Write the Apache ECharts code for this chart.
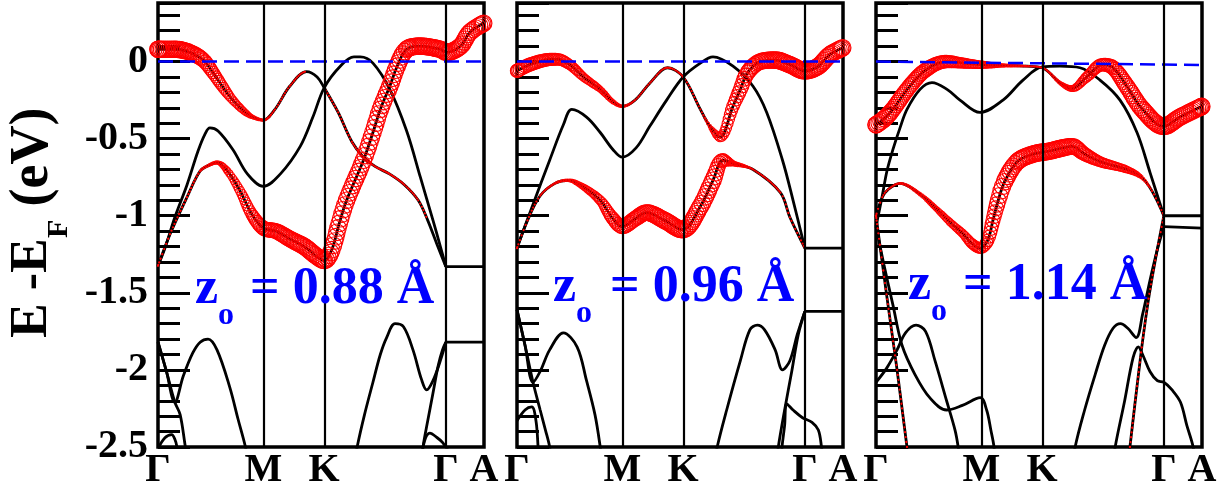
<!DOCTYPE html>
<html>
<head>
<meta charset="utf-8">
<script src="https://cdn.jsdelivr.net/npm/echarts@6/dist/echarts.min.js"></script>
<style>
html, body { margin: 0; padding: 0; background: #fff; }
#chart { width: 1228px; height: 493px; }
</style>
</head>
<body>
<div id="chart"></div>
<script>
// k path  Γ - M - K - Γ - A  (lengths in units of |ΓM|)
var kTicks = [0, 1, 1.577, 2.732, 3.094];
var kNames = ['Γ', 'M', 'K', 'Γ', 'A'];
var zValues = ['0.88', '0.96', '1.14'];
var yMin = -2.5, yMax = 0.38;

// bands: [k, E-EF, weight]   weight = size of the red fat-band circles (0 = none)
// ---- z0 = 0.88
var p1FatA = [[0,0.08,1],[0.16,0.08,1],[0.30,0.06,0.95],[0.43,0.01,0.85],[0.52,-0.07,0.75],[0.62,-0.17,0.65],[0.71,-0.25,0.5],[0.83,-0.33,0.35],[0.90,-0.36,0.22],[1.0,-0.38,0.12],[1.11,-0.31,0.05],[1.25,-0.16,0.03],[1.41,-0.065,0],[1.51,-0.10,0],[1.577,-0.17,0],[1.71,-0.33,0.04],[1.84,-0.52,0.04],[1.95,-0.62,0.04],[2.06,-0.68,0.04],[2.20,-0.73,0.04],[2.34,-0.80,0.04],[2.47,-0.90,0.04],[2.56,-1.03,0],[2.65,-1.19,0],[2.732,-1.33,0]];
var p1FatB = [[0,-1.325,0.04],[0.114,-1.12,0.04],[0.275,-0.88,0.05],[0.40,-0.71,0.1],[0.49,-0.67,0.15],[0.56,-0.655,0.2],[0.66,-0.71,0.4],[0.78,-0.84,0.55],[0.89,-0.99,0.7],[1.0,-1.08,0.85],[1.12,-1.10,0.9],[1.25,-1.15,0.95],[1.39,-1.20,1],[1.50,-1.26,1],[1.58,-1.29,1],[1.65,-1.22,1],[1.72,-1.05,1],[1.79,-0.90,1],[1.95,-0.64,1],[2.04,-0.46,1],[2.11,-0.31,1],[2.20,-0.16,1],[2.27,-0.03,1],[2.36,0.08,1],[2.49,0.10,1],[2.68,0.08,1],[2.74,0.06,1],[2.87,0.10,1],[2.96,0.19,1],[3.094,0.25,1]];
var p1Band2 = [[0,-1.325],[0.066,-1.21],[0.16,-1.01],[0.275,-0.80],[0.38,-0.58],[0.446,-0.47],[0.493,-0.43],[0.57,-0.45],[0.71,-0.57],[0.85,-0.73],[1.0,-0.81],[1.16,-0.73],[1.35,-0.55],[1.47,-0.36],[1.577,-0.17],[1.73,-0.03],[1.86,0.03],[1.92,0.03],[2.04,-0.01],[2.20,-0.18],[2.36,-0.45],[2.49,-0.75],[2.61,-1.03],[2.68,-1.2],[2.732,-1.33]];
var p1Band3 = [[0,-1.82],[0.08,-2.01],[0.16,-2.21],[0.21,-2.29],[0.26,-2.5],[0.29,-2.62]];
var p1Band4 = [[0,-1.82],[0.08,-2.01],[0.16,-2.21],[0.24,-2.04],[0.33,-1.89],[0.40,-1.82],[0.475,-1.80],[0.56,-1.87],[0.68,-2.11],[0.76,-2.32],[0.83,-2.5],[0.86,-2.62]];
var p1Band5 = [[0,-2.51],[0.066,-2.44],[0.13,-2.42],[0.16,-2.45],[0.18,-2.5],[0.20,-2.62]];
var p1Band6 = [[1.86,-2.62],[1.89,-2.5],[1.96,-2.29],[2.04,-2.08],[2.11,-1.90],[2.17,-1.79],[2.25,-1.70],[2.33,-1.72],[2.42,-1.87],[2.50,-2.06],[2.55,-2.13],[2.61,-2.07],[2.68,-1.94],[2.732,-1.82]];
var p1Band7 = [[2.50,-2.62],[2.515,-2.5],[2.56,-2.33],[2.61,-2.15],[2.66,-1.97],[2.70,-1.87],[2.732,-1.82]];
var p1Band8 = [[2.49,-2.62],[2.53,-2.46],[2.58,-2.41],[2.65,-2.44],[2.70,-2.47],[2.76,-2.53]];
var p1Flat = [[-1.33,-1.33],[-1.82,-1.82]];   // Γ-A: [E at Γ, E at A]
var p1Ef = [[0,0],[3.094,0]];

// ---- z0 = 0.96
var p2FatA = [[0,-0.06,0.8],[0.12,-0.02,0.8],[0.27,0.01,0.75],[0.38,0.015,0.7],[0.50,-0.02,0.6],[0.63,-0.10,0.5],[0.79,-0.18,0.35],[0.91,-0.26,0.25],[1.0,-0.29,0.15],[1.12,-0.25,0.05],[1.26,-0.14,0.04],[1.43,-0.04,0.04],[1.577,-0.10,0.03],[1.74,-0.31,0.03],[1.83,-0.42,0.2],[1.927,-0.49,0.55],[2.05,-0.29,0.75],[2.12,-0.18,0.85],[2.19,-0.07,0.9],[2.31,0.0,0.95],[2.45,0.01,1],[2.59,-0.02,1],[2.732,-0.06,1],[2.86,-0.03,1],[2.97,0.045,1],[3.094,0.09,1]];
var p2FatB = [[0,-1.21,0.04],[0.10,-1.03,0.04],[0.22,-0.87,0.05],[0.36,-0.79,0.1],[0.48,-0.77,0.15],[0.60,-0.80,0.3],[0.79,-0.90,0.55],[0.90,-1.01,0.75],[1.0,-1.07,0.85],[1.12,-1.02,0.9],[1.23,-0.98,0.95],[1.40,-1.03,1],[1.57,-1.09,1],[1.74,-0.94,1],[1.86,-0.77,1],[1.955,-0.64,0.8],[2.05,-0.66,0.3],[2.24,-0.70,0.05],[2.50,-0.85,0.04],[2.59,-1.01,0.04],[2.732,-1.21,0]];
var p2Band2 = [[0,-1.21],[0.15,-0.93],[0.31,-0.64],[0.44,-0.41],[0.52,-0.31],[0.66,-0.36],[0.79,-0.46],[0.91,-0.57],[1.0,-0.62],[1.13,-0.56],[1.26,-0.42],[1.42,-0.25],[1.577,-0.10],[1.74,-0.01],[1.86,0.03],[2.05,-0.03],[2.24,-0.16],[2.37,-0.33],[2.52,-0.64],[2.62,-0.90],[2.732,-1.21]];
var p2Band3 = [[0,-1.61],[0.076,-1.84],[0.152,-2.08],[0.22,-2.26],[0.27,-2.39],[0.31,-2.5],[0.33,-2.62]];
var p2Band4 = [[0,-1.61],[0.076,-1.84],[0.152,-2.08],[0.22,-2.01],[0.31,-1.87],[0.44,-1.76],[0.57,-1.85],[0.66,-2.07],[0.74,-2.29],[0.79,-2.5],[0.81,-2.62]];
var p2Band5 = [[0,-2.33],[0.076,-2.26],[0.14,-2.24],[0.18,-2.33],[0.20,-2.5],[0.21,-2.62]];
var p2Band6 = [[1.87,-2.62],[1.90,-2.5],[1.99,-2.26],[2.12,-1.94],[2.21,-1.74],[2.28,-1.71],[2.35,-1.74],[2.45,-1.87],[2.52,-2.0],[2.59,-1.94],[2.66,-1.77],[2.732,-1.62]];
var p2Band7 = [[2.46,-2.62],[2.48,-2.5],[2.54,-2.26],[2.61,-2.0],[2.67,-1.77],[2.732,-1.62]];
var p2Band8 = [[2.50,-2.62],[2.515,-2.5],[2.54,-2.36],[2.56,-2.22],[2.62,-2.26],[2.71,-2.31],[2.80,-2.34],[2.86,-2.39],[2.89,-2.5],[2.91,-2.62]];
var p2Flat = [[-1.21,-1.21],[-1.62,-1.62]];
var p2Ef = [[0,0],[3.094,0]];

// ---- z0 = 1.14
var p3FatA = [[0,-0.41,1],[0.08,-0.37,1],[0.16,-0.31,0.95],[0.32,-0.16,0.9],[0.48,-0.05,0.85],[0.67,0.0,0.75],[0.83,-0.01,0.6],[0.99,-0.02,0.45],[1.2,-0.025,0.2],[1.43,-0.03,0.08],[1.577,-0.04,0.04],[1.75,-0.14,0.2],[1.86,-0.175,0.35],[2.0,-0.10,0.6],[2.15,-0.02,0.75],[2.25,-0.04,0.85],[2.38,-0.16,0.95],[2.53,-0.31,1],[2.732,-0.42,1],[2.885,-0.36,1],[3.094,-0.29,1]];
var p3FatB = [[0,-1.0,0.04],[0.06,-0.88,0.04],[0.114,-0.83,0.06],[0.228,-0.79,0.1],[0.418,-0.86,0.2],[0.58,-0.96,0.3],[0.70,-1.04,0.4],[0.83,-1.12,0.5],[0.91,-1.18,0.6],[0.99,-1.21,0.65],[1.06,-1.16,0.75],[1.11,-1.03,0.85],[1.16,-0.90,0.95],[1.22,-0.78,1],[1.34,-0.65,1],[1.49,-0.60,1],[1.65,-0.58,1],[1.77,-0.56,1],[1.86,-0.55,0.95],[1.98,-0.60,0.8],[2.13,-0.65,0.6],[2.38,-0.70,0.4],[2.52,-0.75,0.2],[2.62,-0.84,0.05],[2.732,-1.0,0]];
var p3Band2 = [[0,-1.07],[0.057,-0.88],[0.104,-0.71],[0.161,-0.57],[0.228,-0.43],[0.294,-0.31],[0.418,-0.18],[0.531,-0.136],[0.674,-0.18],[0.797,-0.25],[0.987,-0.33],[1.205,-0.25],[1.395,-0.12],[1.577,-0.035],[1.746,-0.03],[1.936,-0.04],[2.126,-0.12],[2.316,-0.25],[2.477,-0.46],[2.601,-0.72],[2.732,-1.0]];
var p3Steep1 = [[0,-1.0,0.05],[0.10,-1.51,0.05],[0.20,-2.0,0.05],[0.294,-2.5,0.05],[0.32,-2.62,0.05]];
var p3Steep2 = [[0,-1.07],[0.076,-1.32],[0.161,-1.58],[0.247,-1.84],[0.37,-2.03],[0.51,-2.18],[0.67,-2.26],[0.82,-2.23],[0.99,-2.18],[1.05,-2.26],[1.09,-2.39],[1.12,-2.5],[1.13,-2.62]];
var p3Band3 = [[0,-2.08],[0.10,-1.99],[0.20,-1.87],[0.28,-1.76],[0.38,-1.71],[0.47,-1.75],[0.56,-1.94],[0.67,-2.20],[0.75,-2.39],[0.78,-2.5],[0.80,-2.62]];
var p3Band6 = [[1.87,-2.62],[1.89,-2.5],[1.98,-2.26],[2.08,-2.03],[2.17,-1.84],[2.25,-1.73],[2.32,-1.70],[2.39,-1.73],[2.47,-1.79],[2.53,-1.64],[2.60,-1.42],[2.67,-1.22],[2.732,-1.07]];
var p3Band7 = [[2.25,-2.62],[2.27,-2.5],[2.36,-2.2],[2.44,-1.92],[2.49,-1.85],[2.53,-1.90],[2.60,-2.01],[2.67,-2.07],[2.732,-2.08],[2.81,-2.13],[2.89,-2.21],[2.95,-2.36],[3.01,-2.5],[3.03,-2.62]];
var p3Steep3 = [[2.39,-2.62,0.05],[2.41,-2.5,0.05],[2.51,-1.92,0.05],[2.58,-1.57,0.05],[2.65,-1.29,0.05],[2.732,-1.0,0.05]];
var p3Flat = [[-1.0,-1.0],[-1.07,-1.08]];
var p3Ef = [[0,0],[3.094,-0.022]];

var panels = [
    { left: 158, lines: [p1Band2, p1Band3, p1Band4, p1Band5, p1Band6, p1Band7, p1Band8], fat: [p1FatA, p1FatB], flat: p1Flat, ef: p1Ef },
    { left: 517, lines: [p2Band2, p2Band3, p2Band4, p2Band5, p2Band6, p2Band7, p2Band8], fat: [p2FatA, p2FatB], flat: p2Flat, ef: p2Ef },
    { left: 876, lines: [p3Band2, p3Steep2, p3Band3, p3Band6, p3Band7], fat: [p3FatA, p3FatB, p3Steep1, p3Steep3], flat: p3Flat, ef: p3Ef }
];

var SMOOTH = 0.35;
var FONT = '"Liberation Serif", "Times New Roman", serif';

function clamp(v, a, b) {
    return Math.min(Math.max(v, Math.min(a, b)), Math.max(a, b));
}

// same bezier control points as echarts' smoothed line, so circles sit on the line
function smoothSegments(pts, smooth) {
    var segs = [];
    var cp0 = pts[0];
    for (var i = 1; i < pts.length; i++) {
        var prev = pts[i - 1], cur = pts[i], next = pts[i + 1];
        var cp1, nextCp0;
        if (!next) {
            cp1 = cur; nextCp0 = cur;
        } else {
            var lp = Math.hypot(cur[0] - prev[0], cur[1] - prev[1]);
            var ln = Math.hypot(next[0] - cur[0], next[1] - cur[1]);
            var ratio = ln / (ln + lp);
            var vx = next[0] - prev[0], vy = next[1] - prev[1];
            var nx = clamp(cur[0] + vx * smooth * ratio, cur[0], next[0]);
            var ny = clamp(cur[1] + vy * smooth * ratio, cur[1], next[1]);
            vx = nx - cur[0]; vy = ny - cur[1];
            var cx = clamp(cur[0] - vx * lp / ln, cur[0], prev[0]);
            var cy = clamp(cur[1] - vy * lp / ln, cur[1], prev[1]);
            vx = cur[0] - cx; vy = cur[1] - cy;
            cp1 = [cx, cy];
            nextCp0 = [cur[0] + vx * ln / lp, cur[1] + vy * ln / lp];
        }
        segs.push([prev, cp0, cp1, cur]);
        cp0 = nextCp0;
    }
    return segs;
}

function bez(s, t) {
    var u = 1 - t;
    var a = u * u * u, b = 3 * u * u * t, c = 3 * u * t * t, d = t * t * t;
    return [a * s[0][0] + b * s[1][0] + c * s[2][0] + d * s[3][0],
            a * s[0][1] + b * s[1][1] + c * s[2][1] + d * s[3][1]];
}

// hollow red circles along the band, size from the weight
function fatRender(band) {
    return function (params, api) {
        if (params.dataIndex !== 0) return;
        var pts = band.map(function (d) { return api.coord([d[0], d[1]]); });
        var segs = smoothSegments(pts, SMOOTH);
        var bottom = api.coord([0, yMin])[1];
        var children = [];
        segs.forEach(function (s, i) {
            var w0 = band[i][2], w1 = band[i + 1][2];
            if (w0 <= 0 && w1 <= 0) return;
            var dx = Math.abs(s[3][0] - s[0][0]);
            var len = Math.hypot(s[3][0] - s[0][0], s[3][1] - s[0][1]);
            var n = Math.max(1, Math.ceil(dx / 1.6), Math.ceil(len / 5));
            for (var j = 0; j < n; j++) {
                var t = j / n;
                var w = w0 + (w1 - w0) * t;
                if (w <= 0) continue;
                var p = bez(s, t);
                if (p[1] > bottom) continue;
                children.push({
                    type: 'circle',
                    shape: { cx: p[0], cy: p[1], r: Math.max(w * 8.3, 0.6) },
                    style: { fill: 'none', stroke: '#ff0000', lineWidth: 1.1 }
                });
            }
        });
        return { type: 'group', children: children };
    };
}

var chart = echarts.init(document.getElementById('chart'));

var grids = [], xAxes = [], yAxes = [], series = [], graphics = [];

panels.forEach(function (p, i) {
    grids.push({ left: p.left, top: 3, width: 326, height: 444, show: true, borderColor: '#000', borderWidth: 3.5, outerBoundsMode: 'none' });
    xAxes.push({
        gridIndex: i, type: 'value', min: 0, max: kTicks[4],
        axisLine: { show: false }, axisTick: { show: false }, splitLine: { show: false },
        axisLabel: {
            customValues: kTicks, margin: 4,
            fontFamily: FONT, fontWeight: 'bold', fontSize: 40, color: '#000',
            formatter: function (v) {
                var best = 0;
                kTicks.forEach(function (k, j) { if (Math.abs(k - v) < Math.abs(kTicks[best] - v)) best = j; });
                return kNames[best];
            }
        }
    });
    // long ticks every 0.5 eV (labels on the first panel only)
    yAxes.push({
        gridIndex: i, type: 'value', position: 'left', min: yMin, max: yMax, interval: 0.5,
        axisLine: { show: false }, splitLine: { show: false },
        axisTick: { show: true, inside: true, length: 32, lineStyle: { color: '#000', width: 3 } },
        axisLabel: { show: i === 0, showMaxLabel: false, margin: 10, fontFamily: FONT, fontWeight: 'bold', fontSize: 40, color: '#000' }
    });
    // short ticks every 0.1 eV
    yAxes.push({
        gridIndex: i, type: 'value', position: 'left', min: yMin, max: yMax, interval: 0.1,
        axisLine: { show: false }, splitLine: { show: false },
        axisTick: { show: true, inside: true, length: 22, lineStyle: { color: '#000', width: 3 } },
        axisLabel: { show: false }
    });

    var yi = 2 * i;
    p.lines.concat(p.fat).forEach(function (b) {
        series.push({
            type: 'line', xAxisIndex: i, yAxisIndex: yi, silent: true,
            data: b.map(function (d) { return [d[0], d[1]]; }),
            smooth: SMOOTH, showSymbol: false, z: 2,
            lineStyle: { color: '#000', width: 2.8 }
        });
    });
    p.flat.forEach(function (f, j) {
        var s = {
            type: 'line', xAxisIndex: i, yAxisIndex: yi, silent: true,
            data: [[kTicks[3], f[0]], [kTicks[4], f[1]]],
            showSymbol: false, z: 2,
            lineStyle: { color: '#000', width: 2.8 }
        };
        if (j === 0) {
            s.markLine = {
                silent: true, symbol: ['none', 'none'], label: { show: false },
                lineStyle: { color: '#000', width: 2.2, type: 'solid' },
                data: kTicks.slice(1, 4).map(function (k) { return { xAxis: k }; })
            };
        }
        series.push(s);
    });
    p.fat.forEach(function (b) {
        series.push({
            type: 'custom', xAxisIndex: i, yAxisIndex: yi, silent: true, clip: false, z: 3,
            data: b, renderItem: fatRender(b)
        });
    });
    series.push({
        type: 'line', xAxisIndex: i, yAxisIndex: yi, silent: true,
        data: p.ef, showSymbol: false, z: 4,
        lineStyle: { color: '#0000ff', width: 2.5, type: [15, 7] }
    });
});

// z_o labels
var zX = [195, 553, 908], eqX = [250, 610, 963], zBase = [307, 305, 303];
zValues.forEach(function (v, i) {
    graphics.push({ type: 'text', x: zX[i], y: zBase[i] - 17, z: 10,
        style: { text: 'z', fill: '#0000ff', font: 'bold 52px ' + FONT, align: 'left', verticalAlign: 'middle' } });
    graphics.push({ type: 'text', x: zX[i] + 23, y: zBase[i] + 20 - 11, z: 10,
        style: { text: 'o', fill: '#0000ff', font: 'bold 32px ' + FONT, align: 'left', verticalAlign: 'middle' } });
    graphics.push({ type: 'text', x: eqX[i], y: zBase[i] - 17, z: 10,
        style: { text: '= ' + v + ' Å', fill: '#0000ff', font: 'bold 52px ' + FONT, align: 'left', verticalAlign: 'middle' } });
});

// y axis title  E - E_F (eV), rotated
graphics.push({ type: 'text', x: 33, y: 338, rotation: Math.PI / 2,
    style: { text: 'E -E', fill: '#000', font: 'bold 52px ' + FONT, align: 'left', verticalAlign: 'middle' } });
graphics.push({ type: 'text', x: 59, y: 238, rotation: Math.PI / 2,
    style: { text: 'F', fill: '#000', font: 'bold 30px ' + FONT, align: 'left', verticalAlign: 'middle' } });
graphics.push({ type: 'text', x: 33, y: 220, rotation: Math.PI / 2,
    style: { text: ' (eV)', fill: '#000', font: 'bold 54px ' + FONT, align: 'left', verticalAlign: 'middle' } });

chart.setOption({
    animation: false,
    backgroundColor: '#fff',
    grid: grids,
    xAxis: xAxes,
    yAxis: yAxes,
    series: series,
    graphic: graphics
});
</script>
</body>
</html>
